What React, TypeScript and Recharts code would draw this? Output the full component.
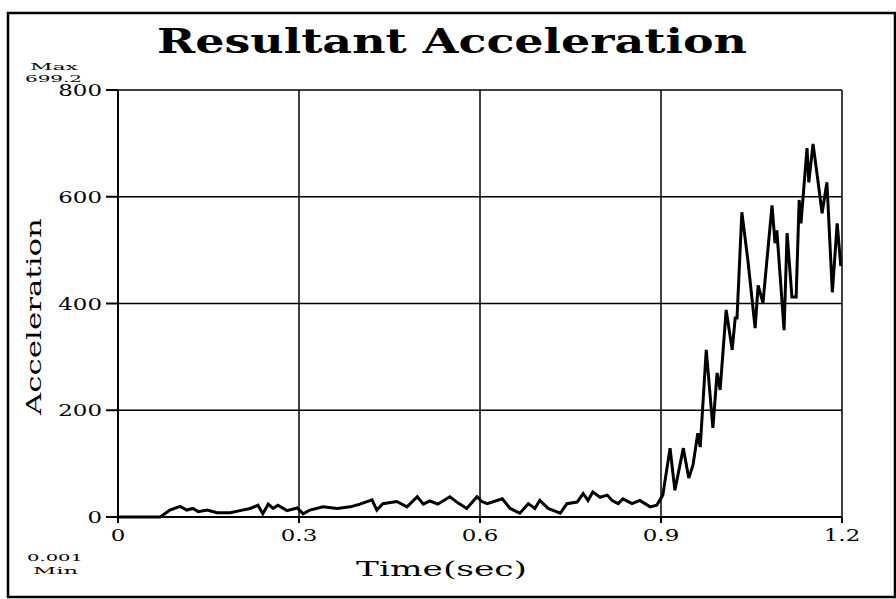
import { LineChart, Line, XAxis, YAxis, CartesianGrid } from "recharts";

// time (sec) and resultant acceleration
const time = [
  0, 0.07, 0.086, 0.103, 0.114, 0.124, 0.133, 0.148, 0.164, 0.186, 0.202, 0.219,
  0.232, 0.24, 0.249, 0.257, 0.265, 0.28, 0.297, 0.307, 0.318, 0.34, 0.363, 0.385,
  0.401, 0.421, 0.429, 0.439, 0.462, 0.479, 0.496, 0.506, 0.517, 0.53, 0.55, 0.564,
  0.578, 0.595, 0.603, 0.612, 0.637, 0.65, 0.666, 0.68, 0.691, 0.699, 0.713, 0.733,
  0.744, 0.761, 0.771, 0.779, 0.787, 0.799, 0.811, 0.819, 0.829, 0.837, 0.852, 0.865,
  0.882, 0.893, 0.903, 0.915, 0.923, 0.937, 0.946, 0.953, 0.961, 0.965, 0.975, 0.986,
  0.993, 0.998, 1.008, 1.018, 1.023, 1.026, 1.034, 1.044, 1.056, 1.061, 1.069, 1.084,
  1.089, 1.092, 1.104, 1.109, 1.117, 1.124, 1.129, 1.132, 1.142, 1.145, 1.152, 1.16,
  1.167, 1.175, 1.184, 1.192, 1.198,
];
const accel = [
  0, 0, 13, 20, 13, 16, 10, 13, 8, 8, 12, 16,
  22, 6, 24, 16, 22, 12, 17, 6, 13, 19, 16, 19,
  24, 32, 13, 25, 29, 19, 38, 24, 30, 24, 38, 26,
  16, 38, 29, 25, 34, 16, 7, 25, 16, 31, 16, 7,
  25, 28, 44, 31, 47, 37, 41, 31, 25, 34, 25, 31,
  19, 22, 41, 129, 50, 129, 73, 97, 157, 131, 313, 167,
  270, 238, 388, 313, 373, 373, 571, 481, 354, 434, 401, 584,
  513, 537, 350, 532, 412, 412, 594, 550, 691, 627, 699, 631,
  569, 627, 421, 550, 470,
];
const xTicks = [0, 0.3, 0.6, 0.9, 1.2];
const yTicks = [0, 200, 400, 600, 800];

const data = time.map((t, i) => ({ t, a: accel[i] }));

const FONT = "'DejaVu Serif', serif";

// the scan is stretched sideways, so glyphs get a horizontal scale
function Stretch({ x, y, sx = 1.35, anchor = "middle", size = 17, children }: any) {
  return (
    <text
      transform={`translate(${x},${y}) scale(${sx},1)`}
      textAnchor={anchor}
      fontFamily={FONT}
      fontSize={size}
      fill="#000"
    >
      {children}
    </text>
  );
}

const XTick = (p: any) => (
  <Stretch x={p.x} y={p.y + 16}>
    {String(p.payload.value)}
  </Stretch>
);

const YTick = (p: any) => (
  <Stretch x={p.x - 2} y={p.y + 6} anchor="end">
    {String(p.payload.value)}
  </Stretch>
);

export default function App() {
  return (
    <div style={{ position: "absolute", left: 0, top: 0, width: 896, height: 599, background: "#fff" }}>
      <LineChart width={896} height={599} data={data} margin={{ top: 90, right: 54, bottom: 0, left: 0 }}>
        <CartesianGrid stroke="#000" strokeWidth={1.5} />
        <XAxis
          dataKey="t"
          type="number"
          domain={[0, 1.2]}
          ticks={xTicks}
          height={82}
          stroke="#000"
          strokeWidth={2}
          tickSize={6}
          tick={XTick}
        />
        <YAxis
          domain={[0, 800]}
          ticks={yTicks}
          width={118}
          stroke="#000"
          strokeWidth={2}
          tickSize={12}
          tick={YTick}
        />
        <Line
          dataKey="a"
          type="linear"
          stroke="#000"
          strokeWidth={3}
          dot={false}
          isAnimationActive={false}
        />
      </LineChart>
      <svg width={896} height={599} style={{ position: "absolute", left: 0, top: 0, pointerEvents: "none" }}>
        <rect x={8} y={13} width={887} height={584} fill="none" stroke="#000" strokeWidth={2.5} />
        <text x={157} y={53} fontFamily={FONT} fontSize={33} fontWeight={700} textLength={590} lengthAdjust="spacingAndGlyphs">
          Resultant Acceleration
        </text>
        <text x={30} y={70} fontFamily={FONT} fontSize={10} textLength={48} lengthAdjust="spacingAndGlyphs">Max</text>
        <text x={25} y={82} fontFamily={FONT} fontSize={10} textLength={57} lengthAdjust="spacingAndGlyphs">699.2</text>
        <text x={27} y={561} fontFamily={FONT} fontSize={10} textLength={56} lengthAdjust="spacingAndGlyphs">0.001</text>
        <text x={33} y={574} fontFamily={FONT} fontSize={10} textLength={45} lengthAdjust="spacingAndGlyphs">Min</text>
        <text x={356} y={576} fontFamily={FONT} fontSize={21} textLength={171} lengthAdjust="spacingAndGlyphs">Time(sec)</text>
        <text
          transform="translate(41,415) rotate(-90)"
          fontFamily={FONT}
          fontSize={21}
          textLength={197}
          lengthAdjust="spacingAndGlyphs"
        >
          Acceleration
        </text>
      </svg>
    </div>
  );
}
